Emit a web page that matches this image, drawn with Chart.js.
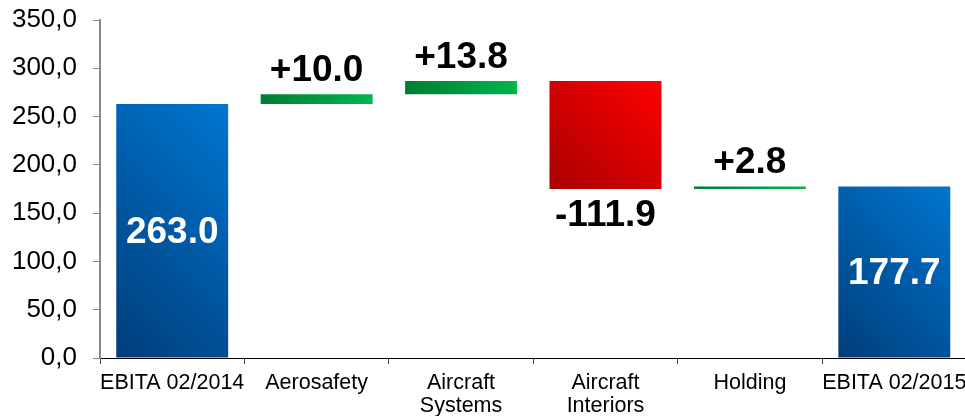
<!DOCTYPE html>
<html>
<head>
<meta charset="utf-8">
<script src="https://cdn.jsdelivr.net/npm/chart.js@4.4.0/dist/chart.umd.min.js"></script>
<style>
  html, body { margin: 0; padding: 0; background: #fff; overflow: hidden; }
  #wrap { width: 975px; height: 416px; }
</style>
</head>
<body>
<div id="wrap"><canvas id="chart"></canvas></div>
<script>
const categories = ['EBITA 02/2014', 'Aerosafety', ['Aircraft', 'Systems'], ['Aircraft', 'Interiors'], 'Holding', 'EBITA 02/2015'];
const amounts = [263.0, 10.0, 13.8, -111.9, 2.8, 177.7];
const isTotal = [true, false, false, false, false, true];
const yTicks = [0, 50, 100, 150, 200, 250, 300, 350];

// floating ranges for the waterfall
let running = 0;
const ranges = amounts.map((v, i) => {
    if (isTotal[i]) { running = v; return [0, v]; }
    const start = running;
    running = +(running + v).toFixed(1);
    return [start, running];
});

// 45 degree gradient, dark in the bottom-left corner
function barGradient(ctx, el, i) {
    const left = el.x - el.width / 2;
    const top = Math.min(el.y, el.base), bottom = Math.max(el.y, el.base);
    const d = (el.width + (bottom - top)) / 2;
    const g = ctx.createLinearGradient(left, bottom, left + d, bottom - d);
    if (isTotal[i]) {
        g.addColorStop(0, '#003d7a');
        g.addColorStop(1, '#0076d0');
    } else if (amounts[i] < 0) {
        g.addColorStop(0, '#a80000');
        g.addColorStop(1, '#ff0000');
    } else {
        g.addColorStop(0, '#007a30');
        g.addColorStop(1, '#00b851');
    }
    return g;
}

// options objects are shared between bars, so give each bar its own copy
const gradientPlugin = {
    id: 'gradients',
    beforeDatasetsDraw(chart) {
        const meta = chart.getDatasetMeta(0);
        meta.data.forEach((el, i) => {
            const p = el.getProps(['x', 'y', 'base', 'width'], true);
            el.options = Object.assign({}, el.options, { backgroundColor: barGradient(chart.ctx, p, i) });
        });
    }
};

const labelPlugin = {
    id: 'valueLabels',
    afterDatasetsDraw(chart) {
        const ctx = chart.ctx;
        const meta = chart.getDatasetMeta(0);
        ctx.save();
        ctx.font = 'bold 37px "Liberation Sans", Arial, sans-serif';
        ctx.textAlign = 'center';
        meta.data.forEach((el, i) => {
            const p = el.getProps(['x', 'y', 'base'], true);
            const v = amounts[i];
            const top = Math.min(p.y, p.base), bottom = Math.max(p.y, p.base);
            if (isTotal[i]) {
                ctx.fillStyle = '#fff';
                ctx.textBaseline = 'middle';
                ctx.fillText(v.toFixed(1), p.x, (top + bottom) / 2 + 2);
            } else if (v < 0) {
                ctx.fillStyle = '#000';
                ctx.textBaseline = 'top';
                ctx.fillText('-' + Math.abs(v).toFixed(1), p.x, bottom + 8);
            } else {
                ctx.fillStyle = '#000';
                ctx.textBaseline = 'alphabetic';
                ctx.fillText('+' + v.toFixed(1), p.x, top - 13);
            }
        });
        ctx.restore();
    }
};

new Chart(document.getElementById('chart'), {
    type: 'bar',
    data: {
        labels: categories,
        datasets: [{
            data: ranges,
            backgroundColor: '#0066b3',
            borderWidth: 0,
            categoryPercentage: 1,
            barPercentage: 0.775
        }]
    },
    options: {
        responsive: true,
        maintainAspectRatio: false,
        animation: false,
        layout: { padding: { top: 20, right: 7, left: 0, bottom: 0 } },
        plugins: { legend: { display: false }, tooltip: { enabled: false } },
        scales: {
            x: {
                grid: { display: true, drawOnChartArea: false, tickLength: 6, color: '#444', offset: true },
                border: { display: true, color: '#000', width: 1 },
                ticks: { color: '#000', font: { family: '"Liberation Sans", Arial, sans-serif', size: 21.5, lineHeight: 1.05 }, padding: 8, maxRotation: 0, autoSkip: false },
                afterFit(s) { s.height = 58; }
            },
            y: {
                min: 0,
                max: 350,
                afterBuildTicks(s) { s.ticks = yTicks.map(v => ({ value: v })); },
                grid: { display: true, drawOnChartArea: false, tickLength: 7, color: '#888' },
                border: { display: true, color: '#888', width: 2 },
                ticks: {
                    color: '#000',
                    font: { family: '"Liberation Sans", Arial, sans-serif', size: 26 },
                    padding: 16,
                    callback: v => v.toFixed(1).replace('.', ',')
                },
                afterFit(s) { s.width = 100; s.paddingTop = 0; s.paddingBottom = 0; }
            }
        }
    },
    plugins: [gradientPlugin, labelPlugin]
});
</script>
</body>
</html>
